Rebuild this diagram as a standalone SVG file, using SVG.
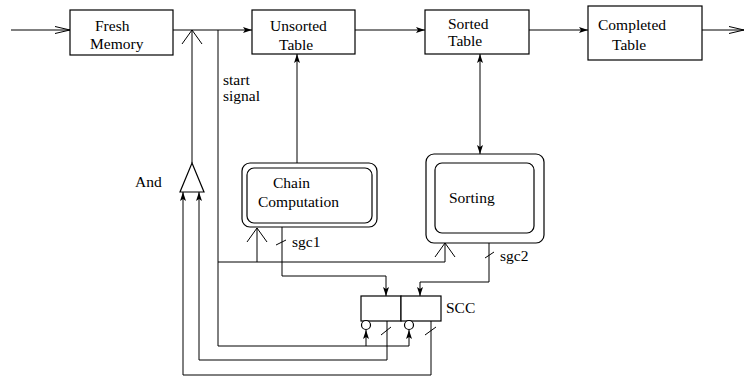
<svg xmlns="http://www.w3.org/2000/svg" width="744" height="377" viewBox="0 0 744 377">
<style>
text{font-family:'Liberation Serif','DejaVu Serif',serif;font-size:15.5px;fill:#000;stroke:none}
.b{fill:#fff;stroke:#000;stroke-width:1.2}
.c{fill:none;stroke:#000;stroke-width:1}
</style>
<defs>
<marker id="f" markerUnits="userSpaceOnUse" markerWidth="20" markerHeight="20" viewBox="-10 -10 20 20" refX="0" refY="0" orient="auto-start-reverse" overflow="visible"><path d="M0,0 L-9,-3 L-7,0 L-9,3 z" fill="#000"/></marker>
<marker id="o" markerUnits="userSpaceOnUse" markerWidth="30" markerHeight="30" viewBox="-15 -15 30 30" refX="0" refY="0" orient="auto" overflow="visible"><path d="M-14,-10 L0,0 L-14,10" fill="none" stroke="#000" stroke-width="1"/></marker>
<marker id="n" markerUnits="userSpaceOnUse" markerWidth="30" markerHeight="30" viewBox="-15 -15 30 30" refX="0" refY="0" orient="auto" overflow="visible"><path d="M-15,-3.5 L0,0 L-15,3.5" fill="none" stroke="#000" stroke-width="1"/></marker>
</defs>
<g id="connectors" class="c">
<path d="M11,30 H70" marker-end="url(#n)"/>
<path d="M173,30 H252" marker-end="url(#f)"/>
<path d="M355,30 H425" marker-end="url(#f)"/>
<path d="M529,30 H588" marker-end="url(#f)"/>
<path d="M702,30 H744" marker-end="url(#n)"/>
<path d="M192,163 V30" marker-end="url(#o)"/>
<path d="M218,30 V346 H409 V330" marker-end="url(#f)"/>
<path d="M366,346 V330" marker-end="url(#f)"/>
<path d="M218,262 H445 V243" marker-end="url(#o)"/>
<path d="M257,262 V228" marker-end="url(#o)"/>
<path d="M297,163 V54" marker-end="url(#f)"/>
<path d="M480,54 V154" marker-start="url(#f)" marker-end="url(#f)"/>
<path d="M282,227 V276 H386 V296" marker-end="url(#f)"/>
<path d="M489,243 V282 H420 V296" marker-end="url(#f)"/>
<path d="M387,321 V360 H199 V192" marker-end="url(#f)"/>
<path d="M431,321 V375 H183 V192" marker-end="url(#f)"/>
<path d="M276,245 L286,240"/>
<path d="M485,258 L494,252"/>
<path d="M381,335 L391,327"/>
<path d="M425,335 L436,327"/>
<text x="292" y="247">sgc1</text>
<text x="500" y="261">sgc2</text>
<text x="223" y="85">start</text>
<text x="223" y="101">signal</text>
</g>
<g id="fresh-memory">
<rect class="b" x="70" y="10" width="103" height="45"/>
<text x="95" y="31">Fresh</text>
<text x="90" y="49">Memory</text>
</g>
<g id="unsorted-table">
<rect class="b" x="252" y="10" width="103" height="44"/>
<text x="270" y="31">Unsorted</text>
<text x="279" y="50">Table</text>
</g>
<g id="sorted-table">
<rect class="b" x="425" y="10" width="104" height="44"/>
<text x="448" y="29">Sorted</text>
<text x="448" y="46">Table</text>
</g>
<g id="completed-table">
<rect class="b" x="588" y="6" width="114" height="54"/>
<text x="598" y="30">Completed</text>
<text x="612" y="50">Table</text>
</g>
<g id="chain-computation">
<rect class="b" x="242" y="163" width="135" height="64" rx="8"/>
<rect class="b" x="247" y="168" width="125" height="55" rx="7"/>
<text x="273" y="188">Chain</text>
<text x="258" y="207">Computation</text>
</g>
<g id="sorting">
<rect class="b" x="426" y="154" width="118" height="89" rx="8"/>
<rect class="b" x="435" y="163" width="99" height="70" rx="7"/>
<text x="449" y="203">Sorting</text>
</g>
<g id="and-gate">
<path class="b" d="M192,163 L204,192 L180,192 Z"/>
<text x="135" y="187">And</text>
</g>
<g id="scc">
<rect class="b" x="361" y="296" width="40" height="25"/>
<rect class="b" x="401" y="296" width="40" height="25"/>
<circle class="b" cx="366" cy="325" r="4.5"/>
<circle class="b" cx="409" cy="325" r="4.5"/>
<text x="446" y="313">SCC</text>
</g>
</svg>
